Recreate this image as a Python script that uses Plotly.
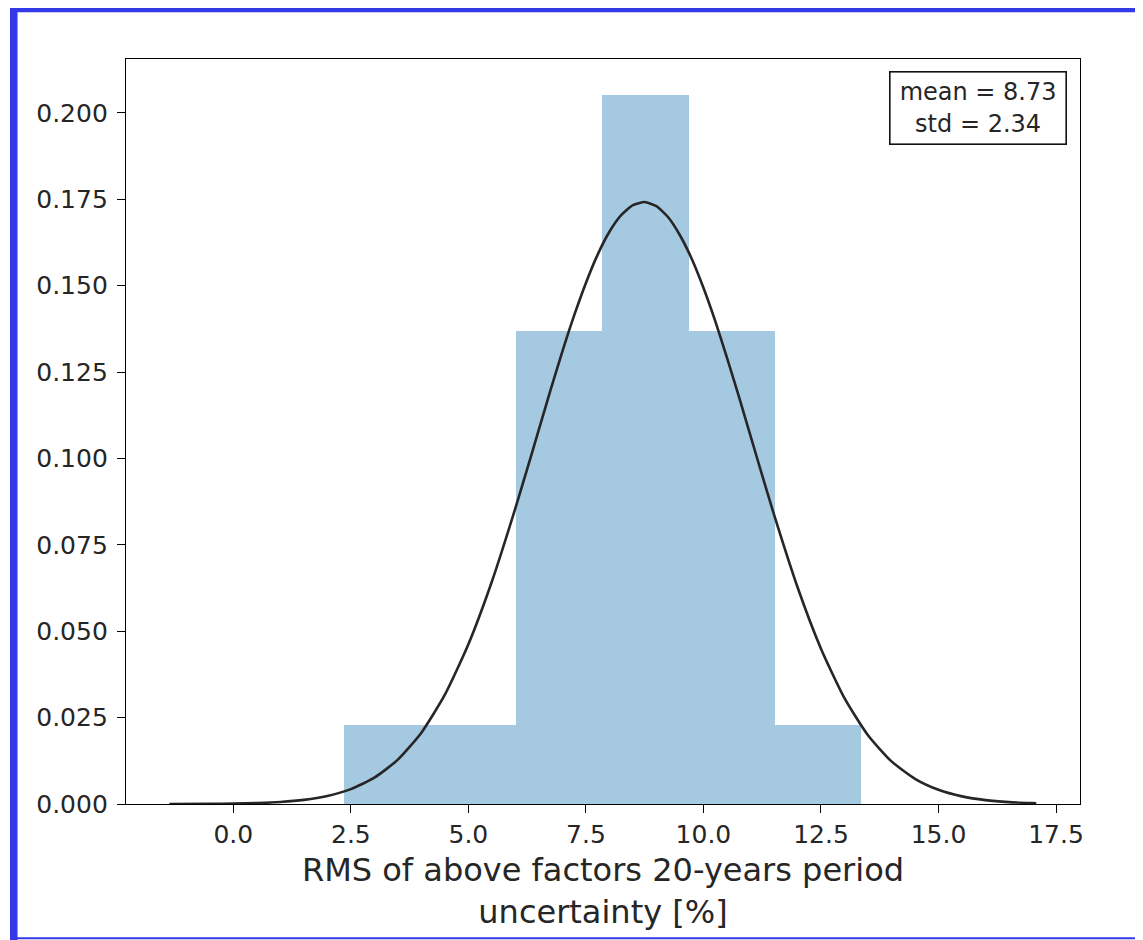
import plotly.graph_objects as go

# Histogram (density)
bin_edges = [2.36, 4.19, 6.02, 7.85, 9.69, 11.52, 13.36]
bin_density = [0.0228, 0.0228, 0.1368, 0.2052, 0.1368, 0.0228]

# Fitted normal curve points
curve_x = [-1.36, -0.5, 0.0, 0.5, 1.0, 1.5, 2.0, 2.5, 3.0, 3.5, 4.0, 4.5, 5.0, 5.5, 6.0,
           6.25, 6.5, 6.75, 7.0, 7.25, 7.5, 7.75, 8.0, 8.25, 8.5, 8.75, 9.0, 9.25, 9.5,
           9.75, 10.0, 10.25, 10.5, 10.75, 11.0, 11.25, 11.5, 12.0, 12.5, 13.0,
           13.5, 14.0, 14.5, 15.0, 15.5, 16.0, 16.5, 17.0, 17.08]
curve_y = [0.00001, 0.000052, 0.00012, 0.000273, 0.00058, 0.001193, 0.00232, 0.004305,
           0.00761, 0.012837, 0.02064, 0.03163, 0.04622, 0.0644, 0.0856,
           0.0969, 0.1084, 0.1199, 0.1310, 0.1414, 0.1508, 0.1590, 0.1656, 0.1704, 0.1733,
           0.1742, 0.1730, 0.1698, 0.1646, 0.1578, 0.1494, 0.1398, 0.1292, 0.1181, 0.1066,
           0.0951, 0.0838, 0.0628, 0.04494, 0.03063, 0.01991, 0.01233, 0.007287, 0.004104,
           0.002204, 0.001127, 0.000551, 0.000257, 0.000226]

x_tickvals = [0.0, 2.5, 5.0, 7.5, 10.0, 12.5, 15.0, 17.5]
x_ticktext = ["0.0", "2.5", "5.0", "7.5", "10.0", "12.5", "15.0", "17.5"]
y_tickvals = [0.0, 0.025, 0.05, 0.075, 0.1, 0.125, 0.15, 0.175, 0.2]

stats_text = "mean = 8.73<br>std = 2.34"
x_label = "RMS of above factors 20-years period<br>uncertainty [%]"

centers = [(a + b) / 2 for a, b in zip(bin_edges[:-1], bin_edges[1:])]
widths = [b - a for a, b in zip(bin_edges[:-1], bin_edges[1:])]

FONT = "DejaVu Sans"
TXT = "#262626"

fig = go.Figure()
fig.add_trace(go.Bar(x=centers, y=bin_density, width=widths,
                     marker=dict(color="#A5C9E1", line=dict(width=0)),
                     showlegend=False, hoverinfo="skip"))
fig.add_trace(go.Scatter(x=curve_x, y=curve_y, mode="lines",
                         line=dict(color="#262626", width=2.6, shape="spline", smoothing=0.6),
                         showlegend=False))

axis_common = dict(showline=True, mirror=True, linecolor="black", linewidth=1.3,
                   ticks="outside", ticklen=8, tickwidth=1.3, tickcolor="black",
                   showgrid=False, zeroline=False,
                   tickfont=dict(family=FONT, size=25, color=TXT))

fig.update_layout(
    width=1135, height=932,
    margin=dict(l=118, r=63, t=51, b=136),
    paper_bgcolor="white", plot_bgcolor="white",
    bargap=0,
    font=dict(family=FONT, color=TXT),
    xaxis=dict(range=[-2.283, 18.01], tickvals=x_tickvals, ticktext=x_ticktext,
               title=dict(text=x_label, font=dict(family=FONT, size=32, color=TXT),
                          standoff=10),
               **axis_common),
    yaxis=dict(range=[0, 0.2156], tickvals=y_tickvals, tickformat=".3f",
               ticklabelstandoff=4, **axis_common),
)

fig.add_annotation(xref="paper", yref="paper", x=1 - 13 / 954, y=1 - 12 / 745.6,
                   xanchor="right", yanchor="top", text=stats_text, showarrow=False,
                   align="center", font=dict(family=FONT, size=24, color=TXT),
                   bordercolor="#111", borderwidth=1.6, borderpad=5,
                   bgcolor="white", width=165, height=61)

# screenshot frame (blue border on left, top, and bottom)
blue = "#3338E8"
fig.add_shape(type="rect", xref="paper", yref="paper", x0=-0.1216, x1=-0.1137,
              y0=-0.19, y1=1.09, fillcolor=blue, line=dict(width=0), layer="above")
fig.add_shape(type="rect", xref="paper", yref="paper", x0=-0.1216, x1=1.1,
              y0=1.0626, y1=1.09, fillcolor=blue, line=dict(width=0), layer="above")
fig.add_shape(type="rect", xref="paper", yref="paper", x0=-0.1216, x1=1.1,
              y0=-0.1815, y1=-0.1787, fillcolor=blue, line=dict(width=0), layer="above")

fig.write_html("out.html")
